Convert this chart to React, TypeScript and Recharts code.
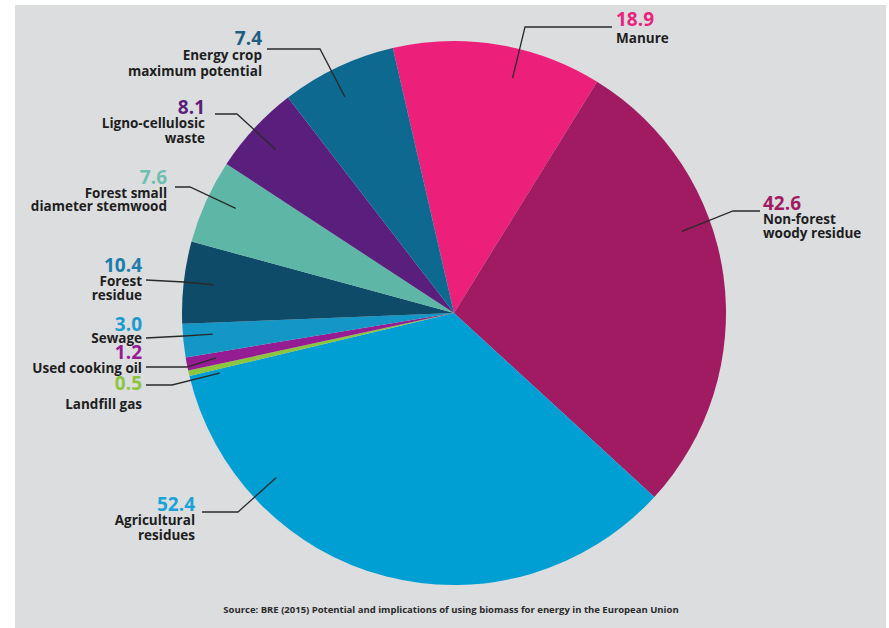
import React from 'react';
import { PieChart, Pie, Cell } from 'recharts';

// Categories in clockwise order starting from the top (Manure)
const categories = [
  'Manure',
  'Non-forest woody residue',
  'Agricultural residues',
  'Landfill gas',
  'Used cooking oil',
  'Sewage',
  'Forest residue',
  'Forest small diameter stemwood',
  'Ligno-cellulosic waste',
  'Energy crop maximum potential',
];

// Figures printed on the chart
const printedValues = ['18.9', '42.6', '52.4', '0.5', '1.2', '3.0', '10.4', '7.6', '8.1', '7.4'];

// Slice sizes as drawn in the reference (its energy-crop and forest-residue arcs
// are drawn with each other's figure)
const drawnValues = [18.9, 42.6, 52.4, 0.5, 1.2, 3.0, 7.4, 7.6, 8.1, 10.4];

// Label text lines under each figure
const labelLines = [
  ['Manure'],
  ['Non-forest', 'woody residue'],
  ['Agricultural', 'residues'],
  ['Landfill gas'],
  ['Used cooking oil'],
  ['Sewage'],
  ['Forest', 'residue'],
  ['Forest small', 'diameter stemwood'],
  ['Ligno-cellulosic', 'waste'],
  ['Energy crop', 'maximum potential'],
];

const sourceText =
  'Source: BRE (2015) Potential and implications of using biomass for energy in the European Union';

const sliceColors = [
  '#EC1F7A', '#A01B62', '#009FD3', '#8CC63F', '#951C93',
  '#1496C6', '#0E4B68', '#5EB7A6', '#5A1E7D', '#0E6990',
];
const valueColors = [
  '#E8247C', '#A01B62', '#19A3D6', '#8CC63F', '#951C93',
  '#1A9CD0', '#1E7CAA', '#6DC0B1', '#5A1E7D', '#1D5E84',
];

const data = categories.map((name, i) => ({ name, drawn: drawnValues[i], printed: printedValues[i] }));

// Label layout, relative to the pie centre (tip = clockwise degrees from 12 o'clock)
type Lay = { tip: number; elbow: [number, number]; end: [number, number]; anchor: 'start' | 'end'; tx: number; vy: number; ny: number[] };
const labelLayout: Lay[] = [
  { tip: 14, elbow: [71, -286], end: [158, -286], anchor: 'start', tx: 162, vy: -287, ny: [-270] },
  { tip: 70.3, elbow: [279, -102], end: [306, -102], anchor: 'start', tx: 309, vy: -103, ny: [-89, -75] },
  { tip: 227.2, elbow: [-216, 199], end: [-252, 199], anchor: 'end', tx: -259, vy: 198, ny: [212, 227] },
  { tip: 255.6, elbow: [-282, 72], end: [-308, 72], anchor: 'end', tx: -312, vy: 77, ny: [96] },
  { tip: 259.3, elbow: [-267, 54], end: [-308, 54], anchor: 'end', tx: -312, vy: 46, ny: [60] },
  { tip: 265, elbow: [-270, 23], end: [-308, 25], anchor: 'end', tx: -312, vy: 18, ny: [30] },
  { tip: 276.7, elbow: [-270, -31], end: [-308, -33], anchor: 'end', tx: -312, vy: -41, ny: [-27, -13] },
  { tip: 295.6, elbow: [-264, -126], end: [-279, -126], anchor: 'end', tx: -287, vy: -129, ny: [-115, -102] },
  { tip: 312.5, elbow: [-217, -199], end: [-239, -199], anchor: 'end', tx: -249, vy: -199, ny: [-185, -170] },
  { tip: 333.2, elbow: [-134, -264], end: [-187, -264], anchor: 'end', tx: -192, vy: -268, ny: [-253, -237] },
];

const FONT = '"Open Sans", sans-serif';
const CX = 454;
const CY = 313;
const R = 272;

const renderLabel = (props: any) => {
  const index: number = props.index;
  const cx: number = typeof props.cx === 'number' ? props.cx : CX;
  const cy: number = typeof props.cy === 'number' ? props.cy : CY;
  const outer: number = typeof props.outerRadius === 'number' ? props.outerRadius : R;
  const L = labelLayout[index];
  if (!L) return null;
  const a = (L.tip * Math.PI) / 180;
  const r = outer * 0.89;
  const p0 = [cx + r * Math.sin(a), cy - r * Math.cos(a)];
  const p1 = [cx + L.elbow[0], cy + L.elbow[1]];
  const p2 = [cx + L.end[0], cy + L.end[1]];
  return (
    <g key={`lab-${index}`}>
      <polyline
        points={`${p0[0]},${p0[1]} ${p1[0]},${p1[1]} ${p2[0]},${p2[1]}`}
        fill="none"
        stroke="#2a2a2a"
        strokeWidth={1.3}
      />
      <text
        x={cx + L.tx}
        y={cy + L.vy}
        textAnchor={L.anchor}
        fill={valueColors[index]}
        fontSize={19}
        fontWeight={700}
        fontFamily={FONT}
      >
        {printedValues[index]}
      </text>
      {labelLines[index].map((s, i) => (
        <text
          key={i}
          x={cx + L.tx}
          y={cy + L.ny[i]}
          textAnchor={L.anchor}
          fill="#1e1e1e"
          fontSize={13.5}
          fontWeight={700}
          fontFamily={FONT}
        >
          {s}
        </text>
      ))}
    </g>
  );
};

export default function App() {
  return (
    <div style={{ position: 'absolute', left: 0, top: 0, width: 889, height: 628, background: '#ffffff', overflow: 'hidden' }}>
      <div style={{ position: 'absolute', left: 15, top: 5, width: 871, height: 623, background: '#dbdddf' }} />
      <div style={{ position: 'absolute', left: 0, top: 0 }}>
        <PieChart width={889} height={628} margin={{ top: 0, right: 0, bottom: 0, left: 0 }}>
          <Pie
            data={data}
            dataKey="drawn"
            nameKey="name"
            cx={CX}
            cy={CY}
            outerRadius={R}
            startAngle={103}
            endAngle={-257}
            stroke="none"
            isAnimationActive={false}
            label={renderLabel}
            labelLine={false}
          >
            {data.map((d, i) => (
              <Cell key={d.name} fill={sliceColors[i]} />
            ))}
          </Pie>
        </PieChart>
      </div>
      <svg width={889} height={628} style={{ position: 'absolute', left: 0, top: 0, pointerEvents: 'none' }}>
        <text x={451} y={613} textAnchor="middle" fontSize={9.5} fontWeight={700} fontFamily={FONT} fill="#2a2a2a">
          {sourceText}
        </text>
      </svg>
    </div>
  );
}
